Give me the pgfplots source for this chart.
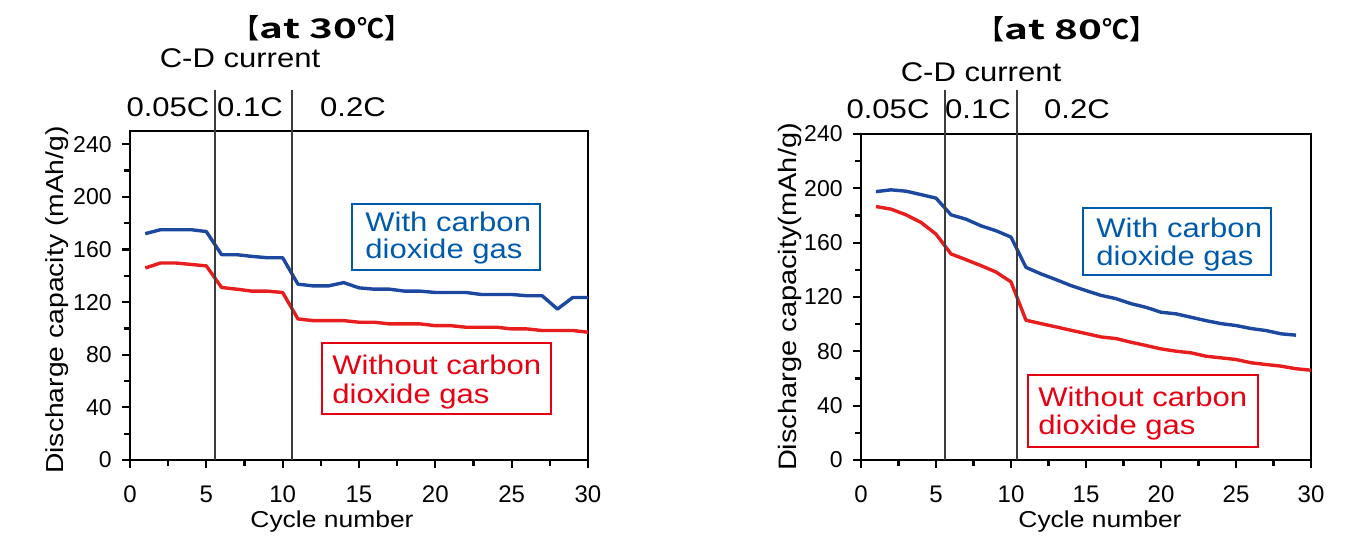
\documentclass[border=0pt]{standalone}
\usepackage{pgfplots}
\pgfplotsset{compat=1.18}
\usepackage{fontspec}
\setmainfont{Liberation Sans}[FakeStretch=1.15]
\newfontfamily\plain{Liberation Sans}
\newfontfamily\cjk{Noto Sans CJK JP Bold}
\newfontfamily\cjkw{Noto Sans CJK JP Bold}[FakeStretch=1.5]
\definecolor{lblue}{RGB}{28,72,160}
\definecolor{tblue}{RGB}{0,90,172}
\definecolor{lred}{RGB}{232,30,30}
\definecolor{tred}{RGB}{230,0,18}
\definecolor{vline}{RGB}{60,60,60}

\pgfplotstableread{
x b r
1 172.0 145.9
2 175.0 149.7
3 175.0 149.7
4 175.0 148.6
5 173.6 147.5
6 156.0 131.1
7 156.0 129.8
8 154.7 128.3
9 153.7 128.3
10 153.7 127.3
11 133.6 107.2
12 132.3 105.9
13 132.3 105.9
14 134.8 105.9
15 130.8 104.7
16 129.8 104.7
17 129.8 103.4
18 128.3 103.4
19 128.3 103.4
20 127.3 102.1
21 127.3 102.1
22 127.3 100.9
23 125.8 100.9
24 125.8 100.9
25 125.8 99.6
26 124.8 99.6
27 124.8 98.4
28 114.7 98.4
29 123.5 98.4
30 123.5 97.1
}\thirty

\pgfplotstableread{
x b
1 197.6
2 198.9
3 197.9
4 195.4
5 192.8
6 180.5
7 177.3
8 172.4
9 168.8
10 164.1
11 141.8
12 137.0
13 132.8
14 128.4
15 124.7
16 121.2
17 118.8
18 115.1
19 112.4
20 108.8
21 107.6
22 105.1
23 102.6
24 100.4
25 99.0
26 96.8
27 95.3
28 92.9
29 91.9
}\eightyb

\pgfplotstableread{
x r
1 186.6
2 184.7
3 180.5
4 174.9
5 166.3
6 151.7
7 147.5
8 143.1
9 138.4
10 131.1
11 102.9
12 100.4
13 98.0
14 95.5
15 93.1
16 90.6
17 89.4
18 86.7
19 84.3
20 81.8
21 80.1
22 78.9
23 76.4
24 75.2
25 74.0
26 71.6
27 70.3
28 69.1
29 67.2
30 66.1
}\eightyr

\pgfplotsset{
  chartstyle/.style={
    scale only axis, xmin=0, xmax=30, ymin=0,
    anchor=south west,
    axis line style={line width=1.4pt},
    tick pos=left, tick align=outside,
    xtick={0,5,...,30}, ytick={0,40,...,240},
    minor xtick={2.5,7.5,...,27.5}, minor ytick={20,60,...,220},
    major tick length=4pt, minor tick length=3pt,
    every major tick/.append style={line width=1.1pt, black},
    every minor tick/.append style={line width=1.1pt, black},
    /pgf/number format/assume math mode=true,
    xticklabel={\plain\fontsize{12}{14}\selectfont\pgfmathprintnumber{\tick}},
    yticklabel={\plain\fontsize{11.5}{13}\selectfont\pgfmathprintnumber{\tick}},
    xticklabel style={anchor=base, inner sep=0pt, yshift=-17pt},
    yticklabel style={anchor=east, inner sep=0pt, xshift=-5pt},
    clip=false,
  },
  bline/.style={lblue, line width=1.7pt, no markers, line join=round},
  rline/.style={lred, line width=1.7pt, no markers, line join=round},
}

\begin{document}
\begin{tikzpicture}[x=0.5pt,y=-0.5pt]
\useasboundingbox (0,0) rectangle (1351,540);

% ---------- left chart ----------
\begin{axis}[chartstyle, at={(65pt,-230pt)}, width=229pt, height=164.5pt, ymax=250]
\addplot[bline] table[x=x,y=b] {\thirty};
\addplot[rline] table[x=x,y=r] {\thirty};
\end{axis}

% ---------- right chart ----------
\begin{axis}[chartstyle, at={(430.5pt,-230pt)}, width=225pt, height=163pt, ymax=240]
\addplot[bline] table[x=x,y=b] {\eightyb};
\addplot[rline] table[x=x,y=r] {\eightyr};
\end{axis}

% vertical separators
\draw[vline, line width=0.6pt] (215,90) -- (215,460);
\draw[vline, line width=0.6pt] (292,90) -- (292,460);
\draw[vline, line width=0.6pt] (945,90) -- (945,460);
\draw[vline, line width=0.6pt] (1017,90) -- (1017,460);

% titles
\node[anchor=base, inner sep=0pt, font=\fontsize{13.5}{14}\selectfont] at (322,39) {{\cjk【}{\cjkw at 30}{\cjk ℃】}};
\node[anchor=base, inner sep=0pt, font=\fontsize{13.5}{14}\selectfont] at (1067,40) {{\cjk【}{\cjkw at 80}{\cjk ℃】}};

% header texts
\begin{scope}[every node/.style={anchor=base, inner sep=0pt, font=\fontsize{13.5}{14}\selectfont}]
\node at (240,68) {C-D current};
\node at (168,117) {0.05C};
\node at (250,117) {0.1C};
\node at (353,117) {0.2C};
\node at (981,82) {C-D current};
\node at (888,119) {0.05C};
\node at (978,119) {0.1C};
\node at (1077,119) {0.2C};
\end{scope}

% axis labels
\begin{scope}[every node/.style={inner sep=0pt}]
\node[anchor=base, font=\fontsize{11.5}{13}\selectfont] at (332,527) {Cycle number};
\node[anchor=base, font=\fontsize{11.5}{13}\selectfont] at (1100,527) {Cycle number};
\node[anchor=base, rotate=90, font=\fontsize{12.3}{14}\selectfont] at (63,300) {Discharge capacity (mAh/g)};
\node[anchor=base, rotate=90, font=\fontsize{12.6}{14}\selectfont] at (796,297) {Discharge capacity(mAh/g)};
\end{scope}

% annotation boxes
\begin{scope}[every node/.style={anchor=base west, inner sep=0pt, font=\fontsize{13.5}{14}\selectfont}]
\draw[tblue, line width=0.7pt] (352,204) rectangle (540,270);
\node[text=tblue] at (365,232) {With carbon};
\node[text=tblue] at (365,258) {dioxide gas};
\draw[tred, line width=0.7pt] (322,343) rectangle (551,414);
\node[text=tred] at (332,374) {Without carbon};
\node[text=tred] at (332,403) {dioxide gas};
\draw[tblue, line width=0.7pt] (1083,208) rectangle (1271,275);
\node[text=tblue] at (1096,238) {With carbon};
\node[text=tblue] at (1096,265) {dioxide gas};
\draw[tred, line width=0.7pt] (1028,375) rectangle (1258,447);
\node[text=tred] at (1038,406) {Without carbon};
\node[text=tred] at (1038,434) {dioxide gas};
\end{scope}
\end{tikzpicture}
\end{document}
